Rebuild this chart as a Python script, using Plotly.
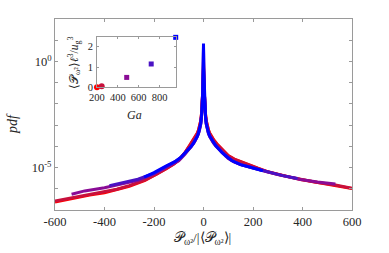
import numpy as np
import plotly.graph_objects as go

# ---------------- data ----------------
# Inset: mean production vs Ga
ga_vals = [200, 245, 485, 720, 955]
prod_vals = [0.01, 0.06, 0.49, 1.15, 2.46]
colors = ["#FF0000", "#C8103C", "#8A0C96", "#4A12C4", "#0000FF"]
symbols = ["circle", "circle", "square", "square", "square"]

# Main: pdf curves (x in units of |<P>|, pdf values as log10)
x_red = [-600, -530, -460, -400, -350, -300, -236, -190, -150, -120, -100, -75, -54, -42, -33, -25, -20, -15, -11, -8, -5, -3, -1, 0,
         1, 3, 5, 8, 11, 15, 20, 25, 33, 42, 54, 75, 100, 125, 150, 189, 220, 256, 300, 350, 392, 450, 533, 600]
lg_red = [-6.62, -6.45, -6.3, -6.19, -6.05, -5.88, -5.6, -5.32, -5.05, -4.83, -4.65, -4.3, -3.92, -3.72, -3.55, -3.37, -3.22, -3.02, -2.77, -2.45, -2.02, -1.42, -0.6, -0.2,
          -0.6, -1.42, -2.02, -2.45, -2.77, -3.02, -3.22, -3.37, -3.55, -3.7, -3.88, -4.15, -4.43, -4.6, -4.72, -4.88, -5.03, -5.18, -5.32, -5.45, -5.56, -5.68, -5.82, -5.99]

x_crim = [-600, -530, -460, -400, -350, -300, -236, -190, -150, -120, -100, -75, -54, -42, -33, -25, -20, -15, -11, -8, -5, -3, -1, 0,
          1, 3, 5, 8, 11, 15, 20, 25, 33, 42, 54, 75, 100, 125, 150, 189, 220, 256, 300, 350, 392, 450, 533, 600]
lg_crim = [-6.58, -6.42, -6.27, -6.15, -6.02, -5.85, -5.58, -5.31, -5.04, -4.83, -4.64, -4.3, -3.94, -3.74, -3.58, -3.4, -3.24, -3.04, -2.8, -2.47, -2.03, -1.38, -0.5, 0.0,
           -0.5, -1.38, -2.03, -2.47, -2.8, -3.04, -3.24, -3.4, -3.58, -3.73, -3.9, -4.17, -4.45, -4.62, -4.74, -4.9, -5.04, -5.19, -5.33, -5.45, -5.56, -5.68, -5.82, -5.98]

x_purp = [-533, -480, -400, -330, -265, -200, -150, -120, -100, -75, -50, -40, -33, -25, -20, -15, -11, -8, -5, -3, -1, 0,
          1, 3, 5, 8, 11, 15, 20, 25, 33, 40, 50, 75, 100, 125, 150, 200, 256, 320, 392, 460, 533]
lg_purp = [-6.26, -6.1, -5.95, -5.78, -5.6, -5.3, -5.0, -4.82, -4.68, -4.37, -4.03, -3.86, -3.73, -3.55, -3.4, -3.18, -2.95, -2.6, -2.15, -1.4, -0.4, 0.6,
           -0.4, -1.4, -2.15, -2.6, -2.95, -3.18, -3.4, -3.54, -3.71, -3.84, -3.99, -4.3, -4.58, -4.74, -4.86, -5.01, -5.2, -5.38, -5.56, -5.68, -5.78]

x_ind = [-380, -330, -265, -200, -150, -115, -90, -75, -50, -40, -33, -25, -20, -15, -11, -8, -5, -3, -1, 0,
         1, 3, 5, 8, 11, 15, 20, 25, 33, 40, 50, 75, 90, 115, 150, 200, 256, 320, 380]
lg_ind = [-5.85, -5.72, -5.55, -5.27, -4.96, -4.72, -4.52, -4.35, -4.02, -3.85, -3.72, -3.54, -3.38, -3.16, -2.93, -2.58, -2.12, -1.35, -0.35, 0.75,
          -0.35, -1.35, -2.12, -2.58, -2.93, -3.16, -3.38, -3.53, -3.7, -3.83, -3.98, -4.3, -4.46, -4.67, -4.86, -5.02, -5.2, -5.38, -5.52]

x_blue = [-240, -200, -150, -115, -90, -75, -50, -40, -33, -25, -20, -15, -11, -8, -5, -3, -1, 0,
          1, 3, 5, 8, 11, 15, 20, 25, 33, 40, 50, 75, 90, 115, 150, 200, 240]
lg_blue = [-5.45, -5.24, -4.92, -4.72, -4.5, -4.33, -4.0, -3.84, -3.7, -3.52, -3.36, -3.14, -2.9, -2.55, -2.1, -1.3, -0.3, 0.85,
           -0.3, -1.3, -2.1, -2.55, -2.9, -3.14, -3.35, -3.51, -3.68, -3.82, -3.97, -4.3, -4.46, -4.68, -4.86, -5.03, -5.15]

x_ticks = [-600, -400, -200, 0, 200, 400, 600]
x_ticklabels = ["-600", "-400", "-200", "0", "200", "400", "600"]
y_label_decades = [-5, 0]
y_label_texts = ["10<sup>-5</sup>", "10<sup>0</sup>"]
y_minor_decades = [-7, -6, -4, -3, -2, -1, 1, 2]
ga_ticks = [200, 400, 600, 800]
prod_ticks = [0, 1, 2]

# ---------------- figure ----------------
FONT = "Liberation Serif"
AXC = "#9a9a9a"
TXT = "#262626"

fig = go.Figure()
series = [(x_red, lg_red), (x_crim, lg_crim), (x_purp, lg_purp), (x_ind, lg_ind), (x_blue, lg_blue)]
for (xs, lg), c in zip(series, colors):
    fig.add_trace(go.Scatter(x=xs, y=10 ** np.array(lg), mode="lines",
                             line=dict(color=c, width=3),
                             showlegend=False, hoverinfo="skip", xaxis="x", yaxis="y"))

for g, p, c, s in zip(ga_vals, prod_vals, colors, symbols):
    fig.add_trace(go.Scatter(x=[g], y=[p], mode="markers",
                             marker=dict(color=c, symbol=s, size=6 if s == "circle" else 5,
                                         line=dict(width=0)),
                             cliponaxis=False, showlegend=False, hoverinfo="skip", xaxis="x2", yaxis="y2"))

fig.update_layout(
    width=389, height=253,
    margin=dict(l=55, r=37, t=19, b=43),
    paper_bgcolor="white", plot_bgcolor="white",
    font=dict(family=FONT, color=TXT, size=12),
    hovermode=False,
    xaxis=dict(domain=[0, 1], range=[-600, 600], tickvals=x_ticks, ticktext=x_ticklabels,
               ticks="inside", ticklen=3, tickcolor=AXC, showline=True, linecolor=AXC, linewidth=1,
               mirror="ticks", showgrid=False, zeroline=False, tickfont=dict(size=12.5, family=FONT, color=TXT)),
    yaxis=dict(type="log", range=[-7, 2], tickvals=[10.0 ** d for d in y_label_decades], ticktext=y_label_texts,
               ticks="inside", ticklen=3, tickcolor=AXC, showline=True, linecolor=AXC, linewidth=1,
               minor=dict(tickmode="array", tickvals=[10.0 ** d for d in y_minor_decades],
                          ticks="inside", ticklen=3, tickcolor=AXC, showgrid=False),
               mirror="ticks", showgrid=False, zeroline=False, tickfont=dict(size=12.5, family=FONT, color=TXT)),
    xaxis2=dict(domain=[0.1414, 0.4064], anchor="y2", range=[200, 955], tickvals=ga_ticks,
                ticks="inside", ticklen=2, tickcolor=AXC, showline=True, linecolor=AXC, linewidth=1,
                mirror="ticks", showgrid=False, zeroline=False,
                tickfont=dict(size=10.5, family=FONT, color=TXT), ticklabelstandoff=0),
    yaxis2=dict(domain=[0.642, 0.904], anchor="x2", range=[0, 2.46], tickvals=prod_ticks,
                ticks="inside", ticklen=2, tickcolor=AXC, showline=True, linecolor=AXC, linewidth=1,
                mirror="ticks", showgrid=False, zeroline=False,
                tickfont=dict(size=10.5, family=FONT, color=TXT), ticklabelstandoff=1),
)

ann = [
    dict(x=0.498, y=-0.15, text="𝒫<sub>ω²</sub>/|⟨𝒫<sub>ω²</sub>⟩|", textangle=0, size=13.5),
    dict(x=-0.145, y=0.455, text="<i>pdf</i>", textangle=-90, size=14),
    dict(x=0.269, y=0.497, text="<i>Ga</i>", textangle=0, size=12),
    dict(x=0.064, y=0.77, text="⟨𝒫<sub>ω²</sub>⟩<i>ℓ</i><sup>3</sup>/<i>u</i><sub>g</sub><sup>3</sup>",
         textangle=-90, size=11.5),
]
for a in ann:
    fig.add_annotation(x=a["x"], y=a["y"], xref="paper", yref="paper", text=a["text"],
                       showarrow=False, textangle=a["textangle"], xanchor="center", yanchor="middle",
                       font=dict(family=FONT, size=a["size"], color=TXT))

fig.write_html("out.html", config={"displayModeBar": False, "staticPlot": True},
               post_script="document.body.style.margin='0';document.body.style.padding='0';")
